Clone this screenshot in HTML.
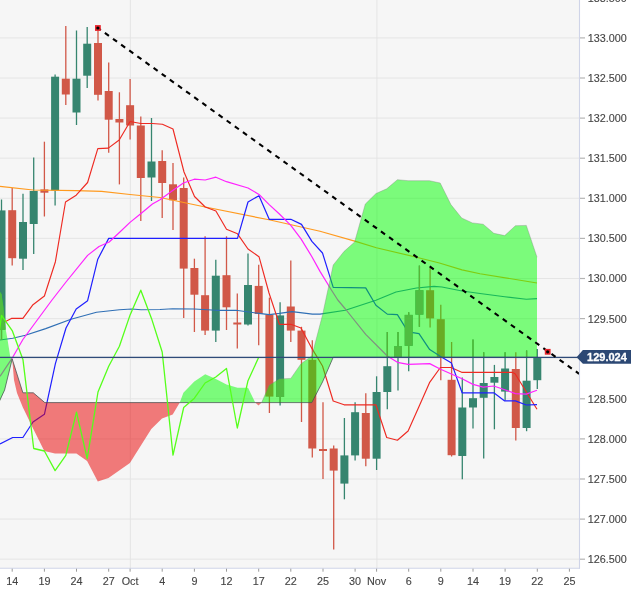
<!DOCTYPE html>
<html><head><meta charset="utf-8"><title>Chart</title><style>html,body{margin:0;padding:0;background:#fff}body{width:633px;height:591px;overflow:hidden}</style></head><body>
<svg width="633" height="591" viewBox="0 0 633 591" style="display:block">
<rect width="633" height="591" fill="#ffffff"/>
<rect x="0" y="0" width="579" height="568.2" fill="#f6f6f6"/>
<defs><clipPath id="cp"><rect x="0" y="0" width="579" height="568.2"/></clipPath></defs>
<g stroke="#e3e3e3" stroke-width="0.9"><line x1="0" y1="37.9" x2="579" y2="37.9"/><line x1="0" y1="78.0" x2="579" y2="78.0"/><line x1="0" y1="118.1" x2="579" y2="118.1"/><line x1="0" y1="158.2" x2="579" y2="158.2"/><line x1="0" y1="198.3" x2="579" y2="198.3"/><line x1="0" y1="238.4" x2="579" y2="238.4"/><line x1="0" y1="278.5" x2="579" y2="278.5"/><line x1="0" y1="318.6" x2="579" y2="318.6"/><line x1="0" y1="358.7" x2="579" y2="358.7"/><line x1="0" y1="398.8" x2="579" y2="398.8"/><line x1="0" y1="438.9" x2="579" y2="438.9"/><line x1="0" y1="479.0" x2="579" y2="479.0"/><line x1="0" y1="519.1" x2="579" y2="519.1"/><line x1="0" y1="559.2" x2="579" y2="559.2"/><line x1="130.4" y1="0" x2="130.4" y2="568.2"/><line x1="376.9" y1="0" x2="376.9" y2="568.2"/></g>
<g clip-path="url(#cp)">
<line x1="1.5" y1="199.5" x2="1.5" y2="340" stroke="#36856f" stroke-width="1.3"/>
<rect x="-2.5" y="210.4" width="8" height="119.3" fill="#36856f"/>
<line x1="12.2" y1="188" x2="12.2" y2="265.5" stroke="#d15848" stroke-width="1.3"/>
<rect x="8.2" y="210.2" width="8" height="48.0" fill="#d15848"/>
<line x1="23.0" y1="193.7" x2="23.0" y2="270" stroke="#36856f" stroke-width="1.3"/>
<rect x="19.0" y="222" width="8" height="36.7" fill="#36856f"/>
<line x1="33.7" y1="157.6" x2="33.7" y2="254" stroke="#36856f" stroke-width="1.3"/>
<rect x="29.7" y="191" width="8" height="33.0" fill="#36856f"/>
<line x1="44.4" y1="141.7" x2="44.4" y2="216.5" stroke="#d15848" stroke-width="1.3"/>
<rect x="40.4" y="189.4" width="8" height="3.3" fill="#d15848"/>
<line x1="55.1" y1="74.4" x2="55.1" y2="205.4" stroke="#36856f" stroke-width="1.3"/>
<rect x="51.1" y="76.7" width="8" height="113.9" fill="#36856f"/>
<line x1="65.8" y1="26" x2="65.8" y2="105" stroke="#d15848" stroke-width="1.3"/>
<rect x="61.8" y="78.7" width="8" height="15.8" fill="#d15848"/>
<line x1="76.5" y1="30.5" x2="76.5" y2="125" stroke="#36856f" stroke-width="1.3"/>
<rect x="72.5" y="78.7" width="8" height="33.8" fill="#36856f"/>
<line x1="87.2" y1="27" x2="87.2" y2="88" stroke="#36856f" stroke-width="1.3"/>
<rect x="83.2" y="43.7" width="8" height="32.0" fill="#36856f"/>
<line x1="98.0" y1="28" x2="98.0" y2="100.6" stroke="#d15848" stroke-width="1.3"/>
<rect x="94.0" y="43" width="8" height="51.8" fill="#d15848"/>
<line x1="108.7" y1="62.5" x2="108.7" y2="152.7" stroke="#d15848" stroke-width="1.3"/>
<rect x="104.7" y="91" width="8" height="28.7" fill="#d15848"/>
<line x1="119.4" y1="92.3" x2="119.4" y2="184.4" stroke="#d15848" stroke-width="1.3"/>
<rect x="115.4" y="119" width="8" height="3.5" fill="#d15848"/>
<line x1="130.1" y1="79" x2="130.1" y2="139.5" stroke="#d15848" stroke-width="1.3"/>
<rect x="126.1" y="105.2" width="8" height="20.3" fill="#d15848"/>
<line x1="140.8" y1="116.4" x2="140.8" y2="221" stroke="#d15848" stroke-width="1.3"/>
<rect x="136.8" y="125.5" width="8" height="52.5" fill="#d15848"/>
<line x1="151.5" y1="118" x2="151.5" y2="201" stroke="#36856f" stroke-width="1.3"/>
<rect x="147.5" y="161.5" width="8" height="16.0" fill="#36856f"/>
<line x1="162.2" y1="150.2" x2="162.2" y2="218" stroke="#d15848" stroke-width="1.3"/>
<rect x="158.2" y="161" width="8" height="22.0" fill="#d15848"/>
<line x1="173.0" y1="163" x2="173.0" y2="230" stroke="#d15848" stroke-width="1.3"/>
<rect x="169.0" y="184.3" width="8" height="16.0" fill="#d15848"/>
<line x1="183.7" y1="177.4" x2="183.7" y2="318" stroke="#d15848" stroke-width="1.3"/>
<rect x="179.7" y="188" width="8" height="80.6" fill="#d15848"/>
<line x1="194.4" y1="258.7" x2="194.4" y2="332" stroke="#d15848" stroke-width="1.3"/>
<rect x="190.4" y="268" width="8" height="26.7" fill="#d15848"/>
<line x1="205.1" y1="236.3" x2="205.1" y2="335" stroke="#d15848" stroke-width="1.3"/>
<rect x="201.1" y="295.2" width="8" height="35.4" fill="#d15848"/>
<line x1="215.8" y1="259.7" x2="215.8" y2="342" stroke="#36856f" stroke-width="1.3"/>
<rect x="211.8" y="275.7" width="8" height="54.9" fill="#36856f"/>
<line x1="226.5" y1="236.3" x2="226.5" y2="330" stroke="#d15848" stroke-width="1.3"/>
<rect x="222.5" y="275.2" width="8" height="32.1" fill="#d15848"/>
<line x1="237.3" y1="293.5" x2="237.3" y2="348.4" stroke="#d15848" stroke-width="1.3"/>
<rect x="233.3" y="322.5" width="8" height="2.0" fill="#d15848"/>
<line x1="248.0" y1="253.6" x2="248.0" y2="325.5" stroke="#36856f" stroke-width="1.3"/>
<rect x="244.0" y="285" width="8" height="39.5" fill="#36856f"/>
<line x1="258.7" y1="264.8" x2="258.7" y2="345.3" stroke="#d15848" stroke-width="1.3"/>
<rect x="254.7" y="285.9" width="8" height="28.1" fill="#d15848"/>
<line x1="269.4" y1="297.6" x2="269.4" y2="413" stroke="#d15848" stroke-width="1.3"/>
<rect x="265.4" y="314.6" width="8" height="82.0" fill="#d15848"/>
<line x1="280.1" y1="302.2" x2="280.1" y2="405.5" stroke="#36856f" stroke-width="1.3"/>
<rect x="276.1" y="315.4" width="8" height="81.6" fill="#36856f"/>
<line x1="290.8" y1="260.5" x2="290.8" y2="342" stroke="#d15848" stroke-width="1.3"/>
<rect x="286.8" y="306.5" width="8" height="24.1" fill="#d15848"/>
<line x1="301.5" y1="326.8" x2="301.5" y2="422" stroke="#d15848" stroke-width="1.3"/>
<rect x="297.5" y="330.6" width="8" height="29.2" fill="#d15848"/>
<line x1="312.3" y1="340.3" x2="312.3" y2="457.4" stroke="#d15848" stroke-width="1.3"/>
<rect x="308.3" y="359.8" width="8" height="88.7" fill="#d15848"/>
<line x1="323.0" y1="402.3" x2="323.0" y2="479" stroke="#d15848" stroke-width="1.3"/>
<rect x="319.0" y="449" width="8" height="2.0" fill="#d15848"/>
<line x1="333.7" y1="445.5" x2="333.7" y2="549.6" stroke="#d15848" stroke-width="1.3"/>
<rect x="329.7" y="448.5" width="8" height="22.1" fill="#d15848"/>
<line x1="344.4" y1="418" x2="344.4" y2="499.3" stroke="#36856f" stroke-width="1.3"/>
<rect x="340.4" y="455.4" width="8" height="28.2" fill="#36856f"/>
<line x1="355.1" y1="402.3" x2="355.1" y2="460.5" stroke="#36856f" stroke-width="1.3"/>
<rect x="351.1" y="412.2" width="8" height="43.2" fill="#36856f"/>
<line x1="365.8" y1="393.2" x2="365.8" y2="466.3" stroke="#d15848" stroke-width="1.3"/>
<rect x="361.8" y="413" width="8" height="45.7" fill="#d15848"/>
<line x1="376.6" y1="376.3" x2="376.6" y2="470" stroke="#36856f" stroke-width="1.3"/>
<rect x="372.6" y="392" width="8" height="66.7" fill="#36856f"/>
<line x1="387.3" y1="331.9" x2="387.3" y2="409.2" stroke="#36856f" stroke-width="1.3"/>
<rect x="383.3" y="366.2" width="8" height="25.8" fill="#36856f"/>
<line x1="398.0" y1="331.9" x2="398.0" y2="390.4" stroke="#36856f" stroke-width="1.3"/>
<rect x="394.0" y="346.3" width="8" height="11.0" fill="#36856f"/>
<line x1="408.7" y1="312.3" x2="408.7" y2="371.3" stroke="#36856f" stroke-width="1.3"/>
<rect x="404.7" y="314.9" width="8" height="30.9" fill="#36856f"/>
<line x1="419.4" y1="265.6" x2="419.4" y2="326.8" stroke="#36856f" stroke-width="1.3"/>
<rect x="415.4" y="290.2" width="8" height="24.4" fill="#36856f"/>
<line x1="430.1" y1="268" x2="430.1" y2="327.6" stroke="#d15848" stroke-width="1.3"/>
<rect x="426.1" y="290.2" width="8" height="28.2" fill="#d15848"/>
<line x1="440.8" y1="304.7" x2="440.8" y2="380.3" stroke="#d15848" stroke-width="1.3"/>
<rect x="436.8" y="319.2" width="8" height="38.1" fill="#d15848"/>
<line x1="451.6" y1="342" x2="451.6" y2="456.5" stroke="#d15848" stroke-width="1.3"/>
<rect x="447.6" y="379.8" width="8" height="75.4" fill="#d15848"/>
<line x1="462.3" y1="377.6" x2="462.3" y2="479.3" stroke="#36856f" stroke-width="1.3"/>
<rect x="458.3" y="407.5" width="8" height="48.5" fill="#36856f"/>
<line x1="473.0" y1="339.5" x2="473.0" y2="428.4" stroke="#36856f" stroke-width="1.3"/>
<rect x="469.0" y="398.2" width="8" height="9.3" fill="#36856f"/>
<line x1="483.7" y1="352.2" x2="483.7" y2="458.4" stroke="#36856f" stroke-width="1.3"/>
<rect x="479.7" y="383" width="8" height="14.8" fill="#36856f"/>
<line x1="494.4" y1="364.9" x2="494.4" y2="429.3" stroke="#36856f" stroke-width="1.3"/>
<rect x="490.4" y="377" width="8" height="5.7" fill="#36856f"/>
<line x1="505.1" y1="352.2" x2="505.1" y2="400.4" stroke="#36856f" stroke-width="1.3"/>
<rect x="501.1" y="368.5" width="8" height="23.1" fill="#36856f"/>
<line x1="515.8" y1="352.2" x2="515.8" y2="440.5" stroke="#d15848" stroke-width="1.3"/>
<rect x="511.8" y="369" width="8" height="59.0" fill="#d15848"/>
<line x1="526.6" y1="350.4" x2="526.6" y2="431.2" stroke="#36856f" stroke-width="1.3"/>
<rect x="522.6" y="380.7" width="8" height="47.3" fill="#36856f"/>
<line x1="537.3" y1="348.9" x2="537.3" y2="389.1" stroke="#36856f" stroke-width="1.3"/>
<rect x="533.3" y="357.3" width="8" height="22.9" fill="#36856f"/>
<polyline points="0.0,186.3 33.0,190.0 76.0,190.6 101.6,191.4 130.0,194.5 160.0,197.5 205.2,207.0 269.0,219.8 320.0,231.3 355.6,241.4 376.4,247.8 416.5,257.2 439.4,263.0 462.0,269.9 480.0,273.7 537.0,283.0" fill="none" stroke="#ff9a1f" stroke-width="1.15" stroke-linejoin="round" />
<polyline points="0.0,340.0 12.7,338.2 25.4,335.2 45.7,328.6 71.0,319.2 96.5,312.3 119.4,309.8 132.0,309.0 141.0,309.8 160.0,309.5 172.7,308.8 194.3,309.0 216.0,310.3 236.0,310.3 259.0,313.4 269.2,314.6 279.4,313.4 292.0,311.6 312.4,314.1 320.0,314.1 345.4,310.3 375.9,300.2 396.0,292.0 416.5,288.0 434.0,286.4 442.0,287.0 462.0,291.0 480.0,293.5 504.7,296.8 526.3,299.3 537.0,298.6" fill="none" stroke="#2f6fb5" stroke-width="1.15" stroke-linejoin="round" />
<polyline points="0.0,324.3 11.4,318.4 22.9,318.4 33.0,304.7 44.4,296.0 55.4,261.7 65.5,202.0 76.2,195.2 87.6,182.5 97.8,148.6 108.3,148.1 119.2,140.0 130.1,121.5 140.8,123.5 152.2,123.5 162.4,124.3 173.0,129.0 184.0,172.0 194.5,196.5 205.2,207.0 215.9,211.0 226.5,229.2 237.5,233.8 248.0,249.0 259.0,256.7 269.0,293.0 279.4,324.3 290.8,324.3 301.0,328.0 311.9,348.4 322.5,366.0 333.2,401.0 344.1,404.8 375.9,404.8 386.7,437.5 397.4,440.2 408.1,431.0 418.8,407.0 429.5,382.7 440.4,367.5 451.0,367.5 461.7,372.3 512.0,372.3 515.1,373.8 537.0,409.2" fill="none" stroke="#ee2a22" stroke-width="1.15" stroke-linejoin="round" />
<polyline points="0.0,444.0 12.7,437.5 22.9,437.5 33.0,422.0 44.4,414.3 55.4,363.6 66.0,328.0 76.2,309.0 87.6,300.7 97.8,259.2 108.7,238.4 237.5,238.4 248.0,202.0 259.0,195.7 269.2,219.3 290.8,219.3 301.5,224.4 311.9,241.4 322.5,253.0 333.2,287.4 365.7,287.9 375.9,305.2 387.3,314.1 397.4,314.6 408.1,331.9 419.0,333.7 429.7,349.6 440.6,356.5 451.5,363.1 462.1,392.8 493.8,392.8 504.7,400.9 515.4,400.9 526.3,405.0 537.0,404.7" fill="none" stroke="#1f1fff" stroke-width="1.2" stroke-linejoin="round" />
<polyline points="0.0,376.3 12.7,357.3 22.9,339.5 52.0,300.0 66.0,282.0 87.6,255.4 99.0,246.5 109.2,242.0 119.4,232.5 130.0,222.4 141.0,213.5 152.4,204.0 160.0,199.7 172.7,190.6 183.4,183.0 194.3,179.2 205.2,180.0 215.9,177.2 226.5,181.7 248.0,188.0 259.0,194.4 269.2,204.6 279.4,214.0 290.8,225.4 301.0,238.9 311.9,256.7 320.0,271.4 331.4,290.0 337.8,300.0 345.4,309.0 365.7,334.4 387.3,356.0 397.4,362.3 408.1,364.4 429.7,363.6 440.6,369.2 462.1,378.8 473.0,384.4 483.2,387.2 493.8,386.0 504.7,389.7 515.4,393.6 526.3,394.1 537.0,390.3" fill="none" stroke="#ff22ff" stroke-width="1.2" stroke-linejoin="round" />
<polygon points="0.0,291.7 1.5,294.2 3.5,307.4 4.6,320.6 5.6,328.7 7.6,340.0 10.2,356.4 12.2,359.0 4.6,390.0 0.0,400.4" fill="rgba(0,255,0,0.5)"/>
<polygon points="12.2,359.0 22.9,392.8 33.3,392.8 44.8,402.6 179.8,402.6 179.8,402.6 172.7,414.4 162.0,418.5 151.3,429.0 129.9,463.0 108.5,478.0 97.8,481.5 87.1,461.0 76.4,453.6 55.0,453.6 44.3,451.0 33.6,429.5 22.9,407.5 17.0,393.0 14.0,380.0 12.2,359.0" fill="rgba(234,0,0,0.51)"/>
<polygon points="255.2,402.6 258.5,405.5 261.6,402.6" fill="rgba(234,0,0,0.51)"/>
<polygon points="179.8,402.6 183.4,392.8 194.3,381.4 205.2,374.3 215.9,378.9 226.5,384.5 237.5,387.8 248.0,387.8 255.2,402.6 255.2,402.6" fill="rgba(0,255,0,0.5)"/>
<polygon points="261.6,402.6 269.2,385.2 279.4,378.9 290.8,378.4 301.0,363.7 311.8,356.0 322.5,315.0 333.2,265.0 343.9,251.6 354.6,242.0 365.3,204.0 376.0,193.5 386.7,188.8 397.4,179.7 408.1,180.7 429.5,180.7 440.2,183.0 450.9,204.6 461.7,218.0 472.4,222.9 483.2,224.2 493.8,233.3 504.7,235.6 515.4,225.7 526.3,225.4 537.0,257.2 537.0,357.3 333.2,357.3 322.5,382.0 311.8,402.6" fill="rgba(0,255,0,0.5)"/>
<clipPath id="gc"><polygon points="0.0,291.7 1.5,294.2 3.5,307.4 4.6,320.6 5.6,328.7 7.6,340.0 10.2,356.4 12.2,359.0 4.6,390.0 0.0,400.4" fill="#000"/><polygon points="179.8,402.6 183.4,392.8 194.3,381.4 205.2,374.3 215.9,378.9 226.5,384.5 237.5,387.8 248.0,387.8 255.2,402.6 255.2,402.6" fill="#000"/><polygon points="261.6,402.6 269.2,385.2 279.4,378.9 290.8,378.4 301.0,363.7 311.8,356.0 322.5,315.0 333.2,265.0 343.9,251.6 354.6,242.0 365.3,204.0 376.0,193.5 386.7,188.8 397.4,179.7 408.1,180.7 429.5,180.7 440.2,183.0 450.9,204.6 461.7,218.0 472.4,222.9 483.2,224.2 493.8,233.3 504.7,235.6 515.4,225.7 526.3,225.4 537.0,257.2 537.0,357.3 333.2,357.3 322.5,382.0 311.8,402.6" fill="#000"/></clipPath>
<g clip-path="url(#gc)">
<line x1="1.5" y1="199.5" x2="1.5" y2="340" stroke="#58b43a" stroke-width="1.3"/>
<rect x="-2.5" y="210.4" width="8" height="119.3" fill="#4fbd41"/>
<line x1="23.0" y1="193.7" x2="23.0" y2="270" stroke="#58b43a" stroke-width="1.3"/>
<rect x="19.0" y="222" width="8" height="36.7" fill="#4fbd41"/>
<line x1="33.7" y1="157.6" x2="33.7" y2="254" stroke="#58b43a" stroke-width="1.3"/>
<rect x="29.7" y="191" width="8" height="33.0" fill="#4fbd41"/>
<line x1="55.1" y1="74.4" x2="55.1" y2="205.4" stroke="#58b43a" stroke-width="1.3"/>
<rect x="51.1" y="76.7" width="8" height="113.9" fill="#4fbd41"/>
<line x1="76.5" y1="30.5" x2="76.5" y2="125" stroke="#58b43a" stroke-width="1.3"/>
<rect x="72.5" y="78.7" width="8" height="33.8" fill="#4fbd41"/>
<line x1="87.2" y1="27" x2="87.2" y2="88" stroke="#58b43a" stroke-width="1.3"/>
<rect x="83.2" y="43.7" width="8" height="32.0" fill="#4fbd41"/>
<line x1="151.5" y1="118" x2="151.5" y2="201" stroke="#58b43a" stroke-width="1.3"/>
<rect x="147.5" y="161.5" width="8" height="16.0" fill="#4fbd41"/>
<line x1="215.8" y1="259.7" x2="215.8" y2="342" stroke="#58b43a" stroke-width="1.3"/>
<rect x="211.8" y="275.7" width="8" height="54.9" fill="#4fbd41"/>
<line x1="248.0" y1="253.6" x2="248.0" y2="325.5" stroke="#58b43a" stroke-width="1.3"/>
<rect x="244.0" y="285" width="8" height="39.5" fill="#4fbd41"/>
<line x1="280.1" y1="302.2" x2="280.1" y2="405.5" stroke="#58b43a" stroke-width="1.3"/>
<rect x="276.1" y="315.4" width="8" height="81.6" fill="#4fbd41"/>
<line x1="344.4" y1="418" x2="344.4" y2="499.3" stroke="#58b43a" stroke-width="1.3"/>
<rect x="340.4" y="455.4" width="8" height="28.2" fill="#4fbd41"/>
<line x1="355.1" y1="402.3" x2="355.1" y2="460.5" stroke="#58b43a" stroke-width="1.3"/>
<rect x="351.1" y="412.2" width="8" height="43.2" fill="#4fbd41"/>
<line x1="376.6" y1="376.3" x2="376.6" y2="470" stroke="#58b43a" stroke-width="1.3"/>
<rect x="372.6" y="392" width="8" height="66.7" fill="#4fbd41"/>
<line x1="387.3" y1="331.9" x2="387.3" y2="409.2" stroke="#58b43a" stroke-width="1.3"/>
<rect x="383.3" y="366.2" width="8" height="25.8" fill="#4fbd41"/>
<line x1="398.0" y1="331.9" x2="398.0" y2="390.4" stroke="#58b43a" stroke-width="1.3"/>
<rect x="394.0" y="346.3" width="8" height="11.0" fill="#4fbd41"/>
<line x1="408.7" y1="312.3" x2="408.7" y2="371.3" stroke="#58b43a" stroke-width="1.3"/>
<rect x="404.7" y="314.9" width="8" height="30.9" fill="#4fbd41"/>
<line x1="419.4" y1="265.6" x2="419.4" y2="326.8" stroke="#58b43a" stroke-width="1.3"/>
<rect x="415.4" y="290.2" width="8" height="24.4" fill="#4fbd41"/>
<line x1="462.3" y1="377.6" x2="462.3" y2="479.3" stroke="#58b43a" stroke-width="1.3"/>
<rect x="458.3" y="407.5" width="8" height="48.5" fill="#4fbd41"/>
<line x1="473.0" y1="339.5" x2="473.0" y2="428.4" stroke="#58b43a" stroke-width="1.3"/>
<rect x="469.0" y="398.2" width="8" height="9.3" fill="#4fbd41"/>
<line x1="483.7" y1="352.2" x2="483.7" y2="458.4" stroke="#58b43a" stroke-width="1.3"/>
<rect x="479.7" y="383" width="8" height="14.8" fill="#4fbd41"/>
<line x1="494.4" y1="364.9" x2="494.4" y2="429.3" stroke="#58b43a" stroke-width="1.3"/>
<rect x="490.4" y="377" width="8" height="5.7" fill="#4fbd41"/>
<line x1="505.1" y1="352.2" x2="505.1" y2="400.4" stroke="#58b43a" stroke-width="1.3"/>
<rect x="501.1" y="368.5" width="8" height="23.1" fill="#4fbd41"/>
<line x1="526.6" y1="350.4" x2="526.6" y2="431.2" stroke="#58b43a" stroke-width="1.3"/>
<rect x="522.6" y="380.7" width="8" height="47.3" fill="#4fbd41"/>
<line x1="537.3" y1="348.9" x2="537.3" y2="389.1" stroke="#58b43a" stroke-width="1.3"/>
<rect x="533.3" y="357.3" width="8" height="22.9" fill="#4fbd41"/>
</g>
<polyline points="-1.0,402.0 4.6,390.0 12.2,359.0 22.9,392.8 33.3,392.8 44.8,402.6 311.8,402.6 322.5,382.0 333.2,357.3 537.0,357.3" fill="none" stroke="rgba(70,80,80,0.75)" stroke-width="1" stroke-linejoin="round" />
<polyline points="261.6,402.6 269.2,385.2 279.4,378.9 290.8,378.4 301.0,363.7 311.8,356.0 322.5,315.0 333.2,265.0 343.9,251.6 354.6,242.0 365.3,204.0 376.0,193.5 386.7,188.8 397.4,179.7 408.1,180.7 429.5,180.7 440.2,183.0 450.9,204.6 461.7,218.0 472.4,222.9 483.2,224.2 493.8,233.3 504.7,235.6 515.4,225.7 526.3,225.4 537.0,257.2" fill="none" stroke="rgba(120,130,120,0.35)" stroke-width="1" stroke-linejoin="round" />
<polyline points="-9.2,396.6 1.5,315.4 12.2,330.6 23.0,359.8 33.7,448.5 44.4,451.0 55.1,470.6 65.8,455.4 76.5,412.2 87.2,458.7 98.0,392.0 108.7,366.2 119.4,346.3 130.1,314.9 140.8,290.2 151.5,318.4 162.2,352.0 173.0,455.2 183.7,407.5 194.4,398.2 205.1,383.0 215.8,377.0 226.5,368.5 237.3,428.0 248.0,380.7 258.7,357.3" fill="none" stroke="#55ff1a" stroke-width="1.3" stroke-linejoin="round" />
</g>
<line x1="0" y1="357.3" x2="583" y2="357.3" stroke="#2e4a78" stroke-width="1.2"/>
<line x1="98" y1="28" x2="579.1" y2="373.8" stroke="#000" stroke-width="2.1" stroke-dasharray="5 5" stroke-dashoffset="1.54"/>
<rect x="95.0" y="25.1" width="5.8" height="5.8" fill="#e8242c"/><circle cx="97.9" cy="28" r="1.6" fill="#000"/>
<rect x="544.8" y="348.9" width="5.8" height="5.8" fill="#e8242c"/><circle cx="547.7" cy="351.8" r="1.6" fill="#000"/>
<line x1="579.5" y1="0" x2="579.5" y2="568.7" stroke="#cfd4e8" stroke-width="1.1"/>
<line x1="0" y1="568.2" x2="580" y2="568.2" stroke="#cfd4e8" stroke-width="1.1"/>
<g stroke="#b4b4b4" stroke-width="1.2"><line x1="580" y1="-2.2" x2="585" y2="-2.2"/><line x1="580" y1="37.9" x2="585" y2="37.9"/><line x1="580" y1="78.0" x2="585" y2="78.0"/><line x1="580" y1="118.1" x2="585" y2="118.1"/><line x1="580" y1="158.2" x2="585" y2="158.2"/><line x1="580" y1="198.3" x2="585" y2="198.3"/><line x1="580" y1="238.4" x2="585" y2="238.4"/><line x1="580" y1="278.5" x2="585" y2="278.5"/><line x1="580" y1="318.6" x2="585" y2="318.6"/><line x1="580" y1="358.7" x2="585" y2="358.7"/><line x1="580" y1="398.8" x2="585" y2="398.8"/><line x1="580" y1="438.9" x2="585" y2="438.9"/><line x1="580" y1="479.0" x2="585" y2="479.0"/><line x1="580" y1="519.1" x2="585" y2="519.1"/><line x1="580" y1="559.2" x2="585" y2="559.2"/></g>
<g font-family="Liberation Sans, Arial, sans-serif" font-size="10.8" fill="#444" stroke="#444" stroke-width="0.12"><text x="587.8" y="1.7">133.500</text><text x="587.8" y="41.8">133.000</text><text x="587.8" y="81.9">132.500</text><text x="587.8" y="122.0">132.000</text><text x="587.8" y="162.1">131.500</text><text x="587.8" y="202.2">131.000</text><text x="587.8" y="242.3">130.500</text><text x="587.8" y="282.4">130.000</text><text x="587.8" y="322.5">129.500</text><text x="587.8" y="362.6">129.000</text><text x="587.8" y="402.7">128.500</text><text x="587.8" y="442.8">128.000</text><text x="587.8" y="482.9">127.500</text><text x="587.8" y="523.0">127.000</text><text x="587.8" y="563.1">126.500</text></g>
<g stroke="#9a9a9a" stroke-width="1"><line x1="12.2" y1="568.7" x2="12.2" y2="571.7"/><line x1="44.4" y1="568.7" x2="44.4" y2="571.7"/><line x1="76.5" y1="568.7" x2="76.5" y2="571.7"/><line x1="108.7" y1="568.7" x2="108.7" y2="571.7"/><line x1="130.1" y1="568.7" x2="130.1" y2="571.7"/><line x1="162.2" y1="568.7" x2="162.2" y2="571.7"/><line x1="194.4" y1="568.7" x2="194.4" y2="571.7"/><line x1="226.5" y1="568.7" x2="226.5" y2="571.7"/><line x1="258.7" y1="568.7" x2="258.7" y2="571.7"/><line x1="290.8" y1="568.7" x2="290.8" y2="571.7"/><line x1="323.0" y1="568.7" x2="323.0" y2="571.7"/><line x1="355.1" y1="568.7" x2="355.1" y2="571.7"/><line x1="376.6" y1="568.7" x2="376.6" y2="571.7"/><line x1="408.7" y1="568.7" x2="408.7" y2="571.7"/><line x1="440.8" y1="568.7" x2="440.8" y2="571.7"/><line x1="473.0" y1="568.7" x2="473.0" y2="571.7"/><line x1="505.1" y1="568.7" x2="505.1" y2="571.7"/><line x1="537.3" y1="568.7" x2="537.3" y2="571.7"/><line x1="569.4" y1="568.7" x2="569.4" y2="571.7"/></g>
<g font-family="Liberation Sans, Arial, sans-serif" font-size="10.8" fill="#444" stroke="#444" stroke-width="0.12"><text x="12.2" y="585" text-anchor="middle">14</text><text x="44.4" y="585" text-anchor="middle">19</text><text x="76.5" y="585" text-anchor="middle">24</text><text x="108.7" y="585" text-anchor="middle">27</text><text x="130.1" y="585" text-anchor="middle">Oct</text><text x="162.2" y="585" text-anchor="middle">4</text><text x="194.4" y="585" text-anchor="middle">9</text><text x="226.5" y="585" text-anchor="middle">12</text><text x="258.7" y="585" text-anchor="middle">17</text><text x="290.8" y="585" text-anchor="middle">22</text><text x="323.0" y="585" text-anchor="middle">25</text><text x="355.1" y="585" text-anchor="middle">30</text><text x="376.6" y="585" text-anchor="middle">Nov</text><text x="408.7" y="585" text-anchor="middle">6</text><text x="440.8" y="585" text-anchor="middle">9</text><text x="473.0" y="585" text-anchor="middle">14</text><text x="505.1" y="585" text-anchor="middle">19</text><text x="537.3" y="585" text-anchor="middle">22</text><text x="569.4" y="585" text-anchor="middle">25</text></g>
<polygon points="576.6,357.3 582.9,350 631,350 631,363.8 582.9,363.8" fill="#2c4874"/>
<text x="587.1" y="361.2" font-family="Liberation Sans, Arial, sans-serif" font-size="11" font-weight="bold" fill="#ffffff" stroke="#ffffff" stroke-width="0.3">129.024</text>
</svg>
</body></html>
